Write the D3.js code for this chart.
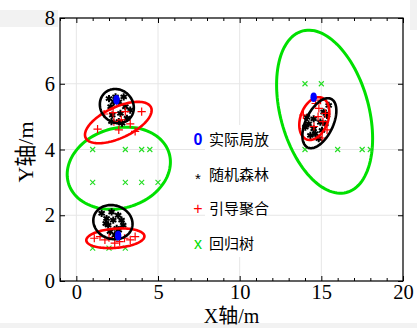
<!DOCTYPE html>
<html>
<head>
<meta charset="utf-8">
<script src="https://cdn.jsdelivr.net/npm/d3@7"></script>
<style>
  body { margin: 0; background: #fff; }
  svg { display: block; }
</style>
</head>
<body>
<div id="chart"></div>
<script>
// tick values
const xTicks = [0, 5, 10, 15, 20];
const yTicks = [0, 2, 4, 6, 8];

// actual discharge positions (blue)
const actualPts = [[2.46, 5.51], [2.56, 1.38], [14.53, 5.59]];

// random forest estimates (black *)
const rfPts = [
  [2.0, 5.55], [2.1, 5.3], [2.2, 5.05], [2.15, 4.85], [2.6, 5.45], [2.9, 5.6], [3.0, 5.3],
  [2.7, 5.1], [3.1, 4.95], [2.6, 4.85], [3.3, 5.2], [2.4, 5.6], [2.8, 4.8], [2.3, 5.45],
  [1.55, 2.06], [1.85, 1.9], [2.16, 2.1], [2.26, 1.85], [2.56, 2.0], [2.77, 1.85], [2.87, 1.7],
  [2.47, 1.6], [2.06, 1.5], [2.36, 1.4], [1.95, 1.7], [2.6, 1.55], [1.8, 1.75],
  [14.12, 4.98], [14.22, 4.78], [14.53, 4.93], [14.53, 4.63], [14.63, 4.48], [14.84, 4.33],
  [15.04, 4.58], [15.25, 4.78], [15.35, 5.04], [15.45, 5.34], [15.14, 5.14], [14.33, 4.43],
  [14.94, 4.83], [14.02, 4.68]
];

// bagging estimates (red +)
const bagPts = [
  [1.3, 4.62], [1.7, 5.08], [2.25, 5.12], [2.3, 4.85], [2.75, 4.9], [3.0, 5.15], [3.3, 4.78],
  [4.0, 5.15], [2.6, 4.6], [3.6, 4.55],
  [1.1, 1.3], [1.45, 1.35], [1.75, 1.25], [2.0, 1.32], [2.35, 1.15], [2.65, 1.2], [2.95, 1.3],
  [3.3, 1.25], [3.6, 1.35],
  [14.85, 5.25], [14.95, 5.5], [14.65, 5.4], [13.9, 5.05], [15.25, 5.1], [14.8, 5.0],
  [14.55, 4.7], [15.35, 4.6], [15.05, 4.35], [15.1, 4.85]
];

// regression tree estimates (green x)
const treePts = [
  [1, 1], [2, 1], [3, 1],
  [1, 3], [3, 3], [4, 3], [5, 3],
  [1, 4], [3, 4], [4, 4], [4.5, 4],
  [14, 6], [15, 6],
  [14, 4], [16, 4], [17.5, 4], [18, 4]
];

// confidence ellipses: [cx, cy, halfX, halfY, rho]
const rfEllipses = [[2.48, 5.32, 1.04, 0.52, -0.1], [2.24, 1.79, 1.2, 0.52, -0.1], [14.88, 4.8, 1.04, 0.76, 0.5]];
const bagEllipses = [[2.57, 4.82, 2.04, 0.63, 0.59], [2.39, 1.3, 1.78, 0.3, 0.2], [14.57, 4.94, 0.92, 0.65, 0.3]];
const treeEllipses = [[2.6, 3.43, 3.16, 1.25, 0.15], [15.2, 5.15, 2.94, 2.48, -0.33]];

const legendItems = ["实际局放", "随机森林", "引导聚合", "回归树"];
const legendGlyphs = ["0", "*", "+", "x"];
const legendColors = ["#0000ff", "#000000", "#ff0000", "#00dd00"];

const W = 417, H = 328;
const svg = d3.select("#chart").append("svg").attr("width", W).attr("height", H);

// screenshot backdrop strips
svg.append("rect").attr("x", 0).attr("y", 10).attr("width", 58).attr("height", 17).attr("fill", "#f2f2f2");
svg.append("rect").attr("x", 410).attr("y", 0).attr("width", 7).attr("height", 30).attr("fill", "#f2f2f2");
svg.append("rect").attr("x", 0).attr("y", 323).attr("width", W).attr("height", 5).attr("fill", "#f2f2f2");

const x = d3.scaleLinear().domain([-1, 20]).range([60, 403]);
const y = d3.scaleLinear().domain([0, 8]).range([281, 18]);

const serif = "'Liberation Serif','Noto Sans CJK SC',serif";

// grid
svg.append("g").selectAll("line").data(xTicks).join("line")
  .attr("x1", d => x(d)).attr("x2", d => x(d)).attr("y1", y(0)).attr("y2", y(8))
  .attr("stroke", "#e6e6e6").attr("stroke-width", 1);
svg.append("g").selectAll("line").data(yTicks).join("line")
  .attr("x1", x(-1)).attr("x2", x(20)).attr("y1", d => y(d)).attr("y2", d => y(d))
  .attr("stroke", "#e6e6e6").attr("stroke-width", 1);

// axes
const minorX = d3.range(-1, 21).filter(d => !xTicks.includes(d));
function styleAxis(g) {
  g.select(".domain").remove();
  g.selectAll(".tick line").attr("stroke", "#000");
  g.selectAll("text").attr("font-family", serif).attr("font-size", 20.5).attr("fill", "#000");
}
svg.append("g").attr("transform", `translate(0,${y(0)})`)
  .call(d3.axisBottom(x).tickValues(xTicks).tickSize(-5).tickPadding(3)).call(styleAxis);
svg.append("g").attr("transform", `translate(0,${y(0)})`)
  .call(d3.axisBottom(x).tickValues(minorX).tickSize(-3).tickFormat("")).call(styleAxis);
svg.append("g").attr("transform", `translate(0,${y(8)})`)
  .call(d3.axisTop(x).tickValues(xTicks).tickSize(-5).tickFormat("")).call(styleAxis);
svg.append("g").attr("transform", `translate(0,${y(8)})`)
  .call(d3.axisTop(x).tickValues(minorX).tickSize(-3).tickFormat("")).call(styleAxis);
svg.append("g").attr("transform", `translate(${x(-1)},0)`)
  .call(d3.axisLeft(y).tickValues(yTicks).tickSize(-5).tickPadding(5)).call(styleAxis);
svg.append("g").attr("transform", `translate(${x(20)},0)`)
  .call(d3.axisRight(y).tickValues(yTicks).tickSize(-5).tickFormat("")).call(styleAxis);

svg.append("rect").attr("x", x(-1)).attr("y", y(8))
  .attr("width", x(20) - x(-1)).attr("height", y(0) - y(8))
  .attr("fill", "none").attr("stroke", "#000").attr("stroke-width", 1.2);

// axis titles
svg.append("text").attr("x", (x(-1) + x(20)) / 2).attr("y", 323)
  .attr("text-anchor", "middle").attr("font-family", serif).attr("font-size", 20).text("X轴/m");
svg.append("text").attr("transform", "translate(33,152) rotate(-90)")
  .attr("text-anchor", "middle").attr("font-family", serif).attr("font-size", 22).text("Y轴/m");

// ellipse helper
const line = d3.line().x(d => x(d[0])).y(d => y(d[1])).curve(d3.curveLinearClosed);
function ellipsePath(e) {
  const [cx, cy, hx, hy, r] = e;
  const pts = d3.range(0, 120).map(i => {
    const t = i / 120 * 2 * Math.PI;
    return [cx + hx * Math.cos(t), cy + hy * (r * Math.cos(t) + Math.sqrt(1 - r * r) * Math.sin(t))];
  });
  return line(pts);
}

const plot = svg.append("g");

// green
plot.append("g").selectAll("path").data(treeEllipses).join("path")
  .attr("d", ellipsePath).attr("fill", "none").attr("stroke", "#00e000").attr("stroke-width", 3);
plot.append("g").selectAll("path").data(treePts).join("path")
  .attr("transform", d => `translate(${x(d[0])},${y(d[1])})`)
  .attr("d", d3.symbol(d3.symbolTimes, 18)).attr("fill", "none").attr("stroke", "#22dd22").attr("stroke-width", 1.1);

// black stars
plot.append("g").selectAll("path").data(rfPts).join("path")
  .attr("transform", d => `translate(${x(d[0])},${y(d[1])})`)
  .attr("d", d3.symbol(d3.symbolAsterisk, 36)).attr("fill", "none").attr("stroke", "#000").attr("stroke-width", 2);

// red plus
plot.append("g").selectAll("path").data(bagPts).join("path")
  .attr("transform", d => `translate(${x(d[0])},${y(d[1])})`)
  .attr("d", d3.symbol(d3.symbolPlus, 24)).attr("fill", "none").attr("stroke", "#ff0000").attr("stroke-width", 1.2);

plot.append("g").selectAll("path").data(bagEllipses).join("path")
  .attr("d", ellipsePath).attr("fill", "none").attr("stroke", "#ff0000").attr("stroke-width", 2.6);
plot.append("g").selectAll("path").data(rfEllipses).join("path")
  .attr("d", ellipsePath).attr("fill", "none").attr("stroke", "#000").attr("stroke-width", 2.6);

// blue actual
plot.append("g").selectAll("ellipse").data(actualPts).join("ellipse")
  .attr("cx", d => x(d[0])).attr("cy", d => y(d[1])).attr("rx", 3.2).attr("ry", 4.8)
  .attr("fill", "#0000ff");

// legend
const lg = svg.append("g");
lg.append("rect").attr("x", 205).attr("y", 125).attr("width", 62).attr("height", 132).attr("fill", "#fff");
const rows = lg.selectAll("g").data(legendItems).join("g")
  .attr("transform", (d, i) => `translate(0,${139 + i * 34.7})`);
rows.append("text").attr("x", 198).attr("y", (d, i) => i === 1 ? 10 : 6)
  .attr("text-anchor", "middle").attr("font-family", "'Liberation Sans',sans-serif")
  .attr("font-size", (d, i) => i === 1 ? 15 : 16)
  .attr("font-weight", (d, i) => i === 0 ? "bold" : "normal")
  .attr("fill", (d, i) => legendColors[i]).text((d, i) => legendGlyphs[i]);
rows.append("text").attr("x", 209).attr("y", 6)
  .attr("font-family", "'Noto Sans CJK SC',sans-serif").attr("font-size", 15)
  .attr("fill", "#000").text(d => d);
</script>
</body>
</html>
